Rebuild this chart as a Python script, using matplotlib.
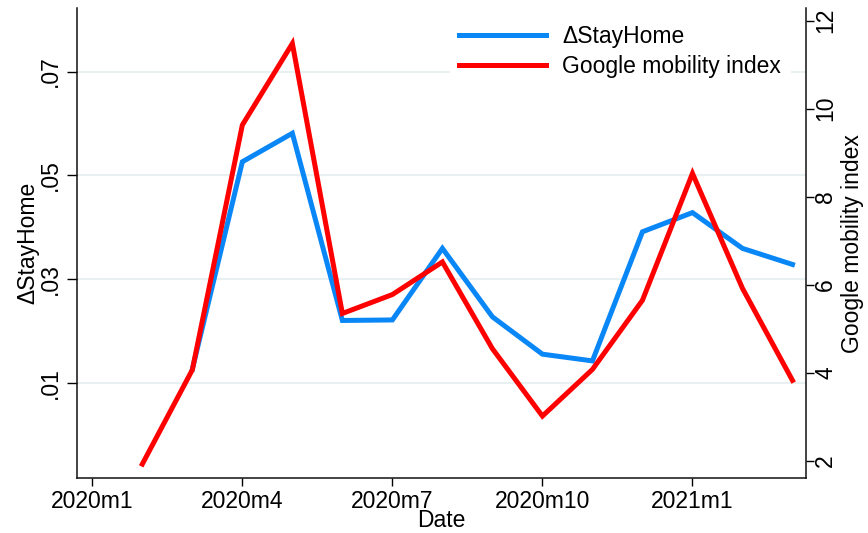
import numpy as np
import matplotlib
matplotlib.use("Agg")
import matplotlib.pyplot as plt
from matplotlib.lines import Line2D

plt.rcParams['font.family'] = ['Liberation Sans', 'DejaVu Sans']

# Monthly index: 0 = 2020m1 ... 14 = 2021m3
months = list(range(1, 15))  # 2020m2 .. 2021m3
stayhome = [np.nan, 0.0126, 0.0526, 0.0581, 0.0220, 0.0221, 0.0359, 0.0227,
            0.0155, 0.0142, 0.0391, 0.0428, 0.0359, 0.0328]
google = [1.93, 4.07, 9.63, 11.48, 5.35, 5.78, 6.52, 4.55,
          3.02, 4.08, 5.65, 8.53, 5.92, 3.83]

xtick_pos = [0, 3, 6, 9, 12]
xtick_labels = ["2020m1", "2020m4", "2020m7", "2020m10", "2021m1"]
left_ticks = [0.01, 0.03, 0.05, 0.07]
left_labels = [".01", ".03", ".05", ".07"]
right_ticks = [2, 4, 6, 8, 10, 12]

blue = "#0a87f7"
red = "#ff0000"
fs = 16.5

fig = plt.figure(figsize=(8.68, 5.33), dpi=100)
ax = fig.add_axes([77.3/868, 1-478/533, (806-77.3)/868, (478-8.3)/533])
ax2 = ax.twinx()

for t in left_ticks:
    ax.axhline(t, color="#e8f0f2", lw=1.5, zorder=0)

ax.plot(months, stayhome, color=blue, lw=3.6, solid_joinstyle='miter', zorder=3)
ax2.plot(months, google, color=red, lw=3.6, solid_joinstyle='miter', zorder=3)

ax.set_xlim(-0.3, 14.27)
ax.set_ylim(-0.00838, 0.0822)
ax2.set_ylim(1.614, 12.28)

ax.set_xticks(xtick_pos)
ax.set_xticklabels(xtick_labels, fontsize=fs)
ax.set_yticks(left_ticks)
ax.set_yticklabels(left_labels, fontsize=fs, rotation=90, va='center')
ax2.set_yticks(right_ticks)
ax2.set_yticklabels([str(v) for v in right_ticks], fontsize=fs, rotation=90, va='center')

for a in (ax, ax2):
    a.spines['top'].set_visible(False)
    for s in a.spines.values():
        s.set_linewidth(1.1)
        s.set_color("#111111")
ax.spines['right'].set_visible(False)
ax2.spines['left'].set_visible(False)
ax2.spines['bottom'].set_visible(False)

ax.tick_params(axis='x', length=6, width=1.0, pad=3)
ax.tick_params(axis='y', length=7, width=1.0, pad=4)
ax2.tick_params(axis='y', length=6, width=1.0, pad=0)

ax.set_xlabel("Date", fontsize=fs, labelpad=-3)
ax.set_ylabel("ΔStayHome", fontsize=fs, labelpad=0)
ax2.set_ylabel("Google mobility index", fontsize=fs, labelpad=3)

handles = [Line2D([], [], color=blue, lw=3.6), Line2D([], [], color=red, lw=3.6)]
leg = ax2.legend(handles, ["ΔStayHome", "Google mobility index"], fontsize=fs,
                 loc='upper right', bbox_to_anchor=(790/868, 1-16/533),
                 bbox_transform=fig.transFigure, frameon=True, fancybox=False,
                 framealpha=1, edgecolor='white', facecolor='white',
                 handlelength=3.8, handletextpad=0.7, labelspacing=0.32,
                 borderpad=0.4, borderaxespad=0)

fig.savefig("out.png", dpi=100)
